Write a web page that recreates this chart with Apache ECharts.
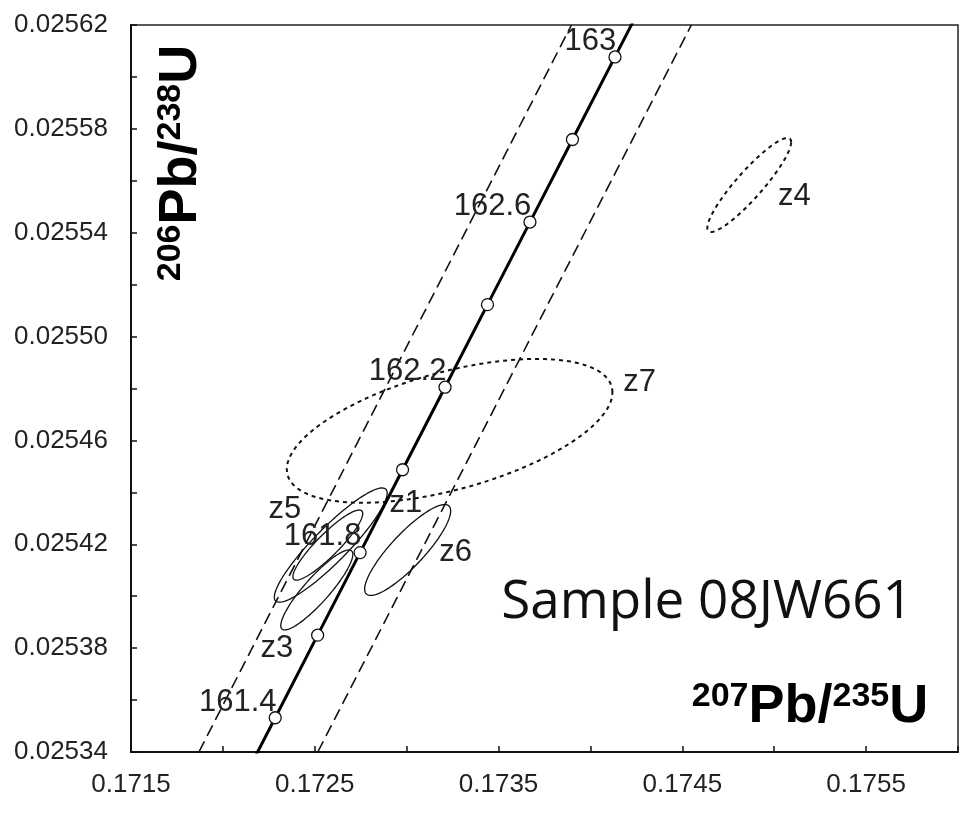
<!DOCTYPE html>
<html>
<head>
<meta charset="utf-8">
<script src="https://cdn.jsdelivr.net/npm/echarts@6/dist/echarts.min.js"></script>
<style>
html,body{margin:0;padding:0;background:#fff;}
#chart{width:964px;height:813px;}
</style>
</head>
<body>
<div id="chart"></div>
<script>
// ---- axis settings ----
const xMin = 0.1715, xMax = 0.1760, xStep = 0.0005;
const yMin = 0.02534, yMax = 0.02562, yStep = 0.00002;

// ---- concordia points (age in Ma, 207Pb/235U, 206Pb/238U) ----
const concordiaAges = [161.2, 161.4, 161.6, 161.8, 162.0, 162.2, 162.4, 162.6, 162.8, 163.0, 163.2];
const concordiaX = [0.1720538, 0.1722847, 0.1725156, 0.1727466, 0.1729776, 0.1732087, 0.1734398, 0.1736709, 0.1739021, 0.1741334, 0.1743647];
const concordiaY = [0.0253214, 0.0253532, 0.0253850, 0.0254168, 0.0254487, 0.0254805, 0.0255123, 0.0255441, 0.0255759, 0.0256077, 0.0256396];
const labeledAges = [161.4, 161.8, 162.2, 162.6, 163.0];
const labeledAgeText = ['161.4', '161.8', '162.2', '162.6', '163'];

// ---- decay-constant uncertainty band (dashed) ----
const bandY = [0.02534, 0.02562];
const bandLeftX = [0.1718696, 0.1738967];
const bandRightX = [0.1725163, 0.1745489];

// ---- zircon error ellipses ----
const grainNames = ['z1', 'z3', 'z4', 'z5', 'z6', 'z7'];
const grainX   = [0.172587, 0.172511, 0.1748641, 0.172571, 0.1730054, 0.1732337];
const grainY   = [0.0254197, 0.0254024, 0.0255584, 0.0254197, 0.0254178, 0.0254637];
const grainSx  = [0.000307, 0.000196, 0.000228, 0.000190, 0.000234, 0.000886];
const grainSy  = [0.0000220, 0.0000154, 0.0000181, 0.0000135, 0.0000175, 0.0000277];
const grainRho = [0.91, 0.89, 0.91, 0.90, 0.86, 0.535];
const grainDotted = [false, false, true, false, false, true];

// ---- style / layout (pixel offsets of ellipse labels) ----
const grainLabelOffset = [[75, -42], [-40, 58], [45, 12], [-43, -36], [48, 2], [190, -48]];

const LABEL_FONT = '"Liberation Sans", Arial, sans-serif';
const TEXT_COLOR = '#222';

const chart = echarts.init(document.getElementById('chart'), null, {renderer: 'canvas'});

const concordiaData = concordiaAges.map((a, i) => [concordiaX[i], concordiaY[i]]);
const ellipseData = grainNames.map((n, i) => [grainX[i], grainY[i], grainSx[i], grainSy[i], grainRho[i]]);

function ageLabel(idx) {
  const a = concordiaAges[idx];
  for (let k = 0; k < labeledAges.length; k++) {
    if (Math.abs(labeledAges[k] - a) < 1e-6) return labeledAgeText[k];
  }
  return '';
}

const titleRich = {
  sup: {fontSize: 34, fontWeight: 'bold', fontFamily: LABEL_FONT, fill: '#000', verticalAlign: 'top', lineHeight: 34},
  big: {fontSize: 54, fontWeight: 'bold', fontFamily: LABEL_FONT, fill: '#000', verticalAlign: 'bottom', lineHeight: 54}
};

const option = {
  animation: false,
  backgroundColor: '#fff',
  grid: {
    left: 131, right: 6, top: 25, bottom: 61,
    containLabel: false, outerBoundsMode: 'none',
    show: true, borderColor: '#222', borderWidth: 1.5
  },
  xAxis: {
    type: 'value', min: xMin, max: xMax, interval: xStep,
    axisLine: {show: true, onZero: false, lineStyle: {color: '#111', width: 2}},
    axisTick: {show: true, inside: true, length: 6, lineStyle: {color: '#111', width: 1.5}},
    splitLine: {show: false},
    axisLabel: {
      margin: 20, fontSize: 26, fontFamily: LABEL_FONT, color: TEXT_COLOR,
      formatter: (v, i) => (i % 2 === 0 ? v.toFixed(4) : '')
    }
  },
  yAxis: {
    type: 'value', min: yMin, max: yMax, interval: yStep,
    axisLine: {show: true, onZero: false, lineStyle: {color: '#111', width: 2}},
    axisTick: {show: true, inside: true, length: 6, lineStyle: {color: '#111', width: 1.5}},
    splitLine: {show: false},
    axisLabel: {
      margin: 23, fontSize: 26, fontFamily: LABEL_FONT, color: TEXT_COLOR,
      formatter: (v, i) => (i % 2 === 0 ? v.toFixed(5) : '')
    }
  },
  series: [
    {
      name: 'bandLeft', type: 'line', z: 2, symbol: 'none', clip: true,
      data: bandY.map((y, i) => [bandLeftX[i], y]),
      lineStyle: {color: '#111', width: 1.6, type: [12, 6]}
    },
    {
      name: 'bandRight', type: 'line', z: 2, symbol: 'none', clip: true,
      data: bandY.map((y, i) => [bandRightX[i], y]),
      lineStyle: {color: '#111', width: 1.6, type: [12, 6]}
    },
    {
      name: 'ellipses', type: 'custom', z: 3,
      coordinateSystem: 'cartesian2d',
      encode: {x: 0, y: 1},
      data: ellipseData,
      renderItem: function (params, api) {
        const i = params.dataIndex;
        const cx = api.value(0), cy = api.value(1), sx = api.value(2), sy = api.value(3), r = api.value(4);
        const q = Math.sqrt(1 - r * r);
        const pts = [];
        const N = 120;
        for (let k = 0; k < N; k++) {
          const t = 2 * Math.PI * k / N;
          pts.push(api.coord([cx + sx * Math.cos(t), cy + sy * (r * Math.cos(t) + q * Math.sin(t))]));
        }
        const c = api.coord([cx, cy]);
        const dotted = grainDotted[i];
        const off = grainLabelOffset[i];
        return {
          type: 'group',
          children: [
            {
              type: 'polygon', shape: {points: pts},
              style: {fill: 'none', stroke: '#111', lineWidth: dotted ? 2 : 1.3, lineDash: dotted ? [4, 4] : null}
            },
            {
              type: 'text', x: c[0] + off[0], y: c[1] + off[1],
              style: {text: grainNames[i], fill: TEXT_COLOR, fontSize: 31, fontFamily: LABEL_FONT,
                      align: 'center', verticalAlign: 'middle'}
            }
          ]
        };
      }
    },
    {
      name: 'concordia', type: 'line', z: 4, clip: true,
      data: concordiaData,
      lineStyle: {color: '#000', width: 3},
      symbol: 'circle', symbolSize: 12, showSymbol: true, showAllSymbol: true,
      itemStyle: {color: '#fff', borderColor: '#111', borderWidth: 1.3},
      label: {
        show: true, position: [8, -9], align: 'right', verticalAlign: 'middle',
        fontSize: 31, fontFamily: LABEL_FONT, color: TEXT_COLOR,
        formatter: p => ageLabel(p.dataIndex)
      },
      labelLayout: {hideOverlap: false}
    }
  ],
  graphic: [
    {
      type: 'text', x: 181, y: 163, rotation: Math.PI / 2, z: 100,
      style: {
        text: '{sup|206}{big|Pb/}{sup|238}{big|U}',
        align: 'center', verticalAlign: 'middle', rich: titleRich
      }
    },
    {
      type: 'text', x: 810, y: 707, z: 100,
      style: {
        text: '{sup|207}{big|Pb/}{sup|235}{big|U}',
        align: 'center', verticalAlign: 'middle', rich: titleRich
      }
    },
    {
      type: 'text', x: 707, y: 603, z: 100,
      style: {
        text: 'Sample 08JW661', fill: '#111', fontSize: 53, fontFamily: '"Open Sans", sans-serif',
        align: 'center', verticalAlign: 'middle'
      }
    }
  ]
};
chart.setOption(option);
</script>
</body>
</html>
